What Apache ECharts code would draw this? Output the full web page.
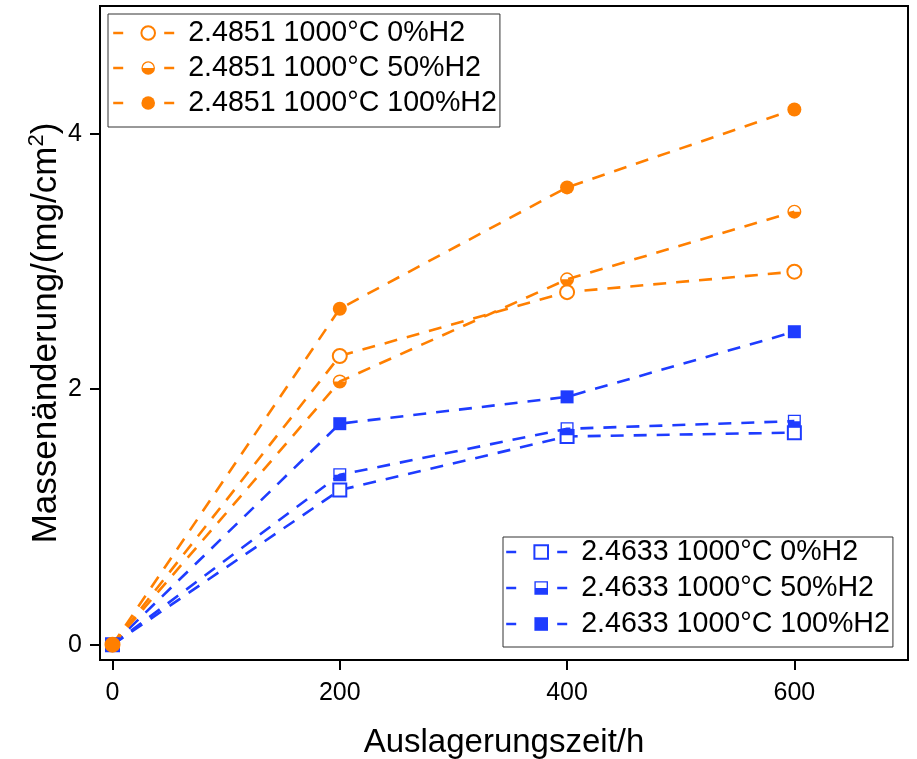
<!DOCTYPE html>
<html>
<head>
<meta charset="utf-8">
<script src="https://cdn.jsdelivr.net/npm/echarts@6/dist/echarts.min.js"></script>
<style>
  html, body { margin: 0; padding: 0; background: #fff; }
  #chart { width: 917px; height: 759px; }
</style>
</head>
<body>
<div id="chart"></div>
<script>
// Exposure time (h)
const hours = [0, 200, 400, 600];
const xTicks = [0, 200, 400, 600];
const yTicks = [0, 2, 4];

// Series names
const names2851 = ['2.4851 1000°C 0%H2', '2.4851 1000°C 50%H2', '2.4851 1000°C 100%H2'];
const names2633 = ['2.4633 1000°C 0%H2', '2.4633 1000°C 50%H2', '2.4633 1000°C 100%H2'];

// Mass change (mg/cm²)
const m2851_0 = [0, 2.26, 2.76, 2.92];
const m2851_50 = [0, 2.06, 2.86, 3.39];
const m2851_100 = [0, 2.63, 3.58, 4.19];
const m2633_0 = [0, 1.21, 1.63, 1.66];
const m2633_50 = [0, 1.33, 1.69, 1.75];
const m2633_100 = [0, 1.73, 1.94, 2.45];

const ORANGE = '#ff7f00';
const BLUE = '#1e3cff';
const FONT = "'Liberation Sans', Arial, sans-serif";

// Half-filled markers: outline ring plus filled lower half
const halfCircle = 'path://M0,10 A10,10 0 1,1 20,10 A10,10 0 1,1 0,10 Z ' +
  'M2,10 A8,8 0 1,0 18,10 A8,8 0 1,0 2,10 Z ' +
  'M2,10 L18,10 A8,8 0 0,1 2,10 Z';
const halfSquare = 'path://M0,0 L20,0 L20,20 L0,20 Z ' +
  'M2,2 L2,18 L18,18 L18,2 Z ' +
  'M2,10 L18,10 L18,18 L2,18 Z';

function pairs(vals) {
  return hours.map((h, i) => [h, vals[i]]);
}

function makeSeries(name, vals, color, symbol, size) {
  const hollow = symbol.indexOf('empty') === 0;
  return {
    name: name,
    type: 'line',
    data: pairs(vals),
    symbol: symbol,
    symbolSize: size,
    showSymbol: true,
    lineStyle: { color: color, width: 2.6, type: [13, 10] },
    itemStyle: hollow
      ? { color: color, borderColor: color, borderWidth: 1.4 }
      : { color: color, borderWidth: 0 },
    emphasis: { disabled: true },
    animation: false
  };
}

const series = [
  makeSeries(names2633[0], m2633_0, BLUE, 'emptyRect', 13),
  makeSeries(names2633[1], m2633_50, BLUE, halfSquare, 13),
  makeSeries(names2633[2], m2633_100, BLUE, 'rect', 13),
  makeSeries(names2851[0], m2851_0, ORANGE, 'emptyCircle', 14),
  makeSeries(names2851[1], m2851_50, ORANGE, halfCircle, 14),
  makeSeries(names2851[2], m2851_100, ORANGE, 'circle', 14)
];

const legendCommon = {
  orient: 'vertical',
  itemWidth: 70,
  itemHeight: 17,
  selectedMode: false,
  backgroundColor: '#fff',
  borderColor: '#333',
  borderWidth: 1,
  borderRadius: 0,
  lineStyle: { type: [10, 41], width: 2.4 },
  textStyle: { fontFamily: FONT, fontSize: 28.6, color: '#000', lineHeight: 30 }
};

const chart = echarts.init(document.getElementById('chart'), null, { renderer: 'canvas' });
chart.setOption({
  backgroundColor: '#fff',
  animation: false,
  grid: {
    left: 100, right: 9, top: 6, bottom: 99,
    outerBoundsMode: 'none',
    containLabel: false,
    show: true, borderColor: '#000', borderWidth: 2, backgroundColor: 'transparent'
  },
  legend: [
    Object.assign({}, legendCommon, {
      data: names2851, left: 108, top: 14, itemGap: 5, padding: [4, 3, 9, 4]
    }),
    Object.assign({}, legendCommon, {
      data: names2633, left: 503, top: 537, itemGap: 6, padding: [0, 3, 8, 2]
    })
  ],
  xAxis: {
    type: 'value',
    min: -11,
    max: 700,
    name: 'Auslagerungszeit/h',
    nameLocation: 'middle',
    nameGap: 66,
    nameMoveOverlap: false,
    nameTextStyle: { fontFamily: FONT, fontSize: 33, color: '#000' },
    axisLine: { show: true, onZero: false, lineStyle: { color: '#000', width: 2 } },
    axisTick: { show: true, inside: false, length: 10, lineStyle: { color: '#000', width: 2 }, customValues: xTicks },
    axisLabel: { fontFamily: FONT, fontSize: 25, color: '#000', margin: 21, customValues: xTicks },
    splitLine: { show: false }
  },
  yAxis: {
    type: 'value',
    min: -0.12,
    max: 5,
    name: 'Massenänderung/(mg/cm{sup|2})',
    nameLocation: 'middle',
    nameGap: 34,
    nameMoveOverlap: false,
    nameTextStyle: {
      fontFamily: FONT, fontSize: 35, color: '#000', lineHeight: 40,
      rich: { sup: { fontFamily: FONT, fontSize: 22, color: '#000', lineHeight: 20, verticalAlign: 'top' } }
    },
    axisLine: { show: true, onZero: false, lineStyle: { color: '#000', width: 2 } },
    axisTick: { show: true, inside: false, length: 10, lineStyle: { color: '#000', width: 2 }, customValues: yTicks },
    axisLabel: { fontFamily: FONT, fontSize: 25, color: '#000', margin: 18, customValues: yTicks },
    splitLine: { show: false }
  },
  series: series
});
</script>
</body>
</html>
